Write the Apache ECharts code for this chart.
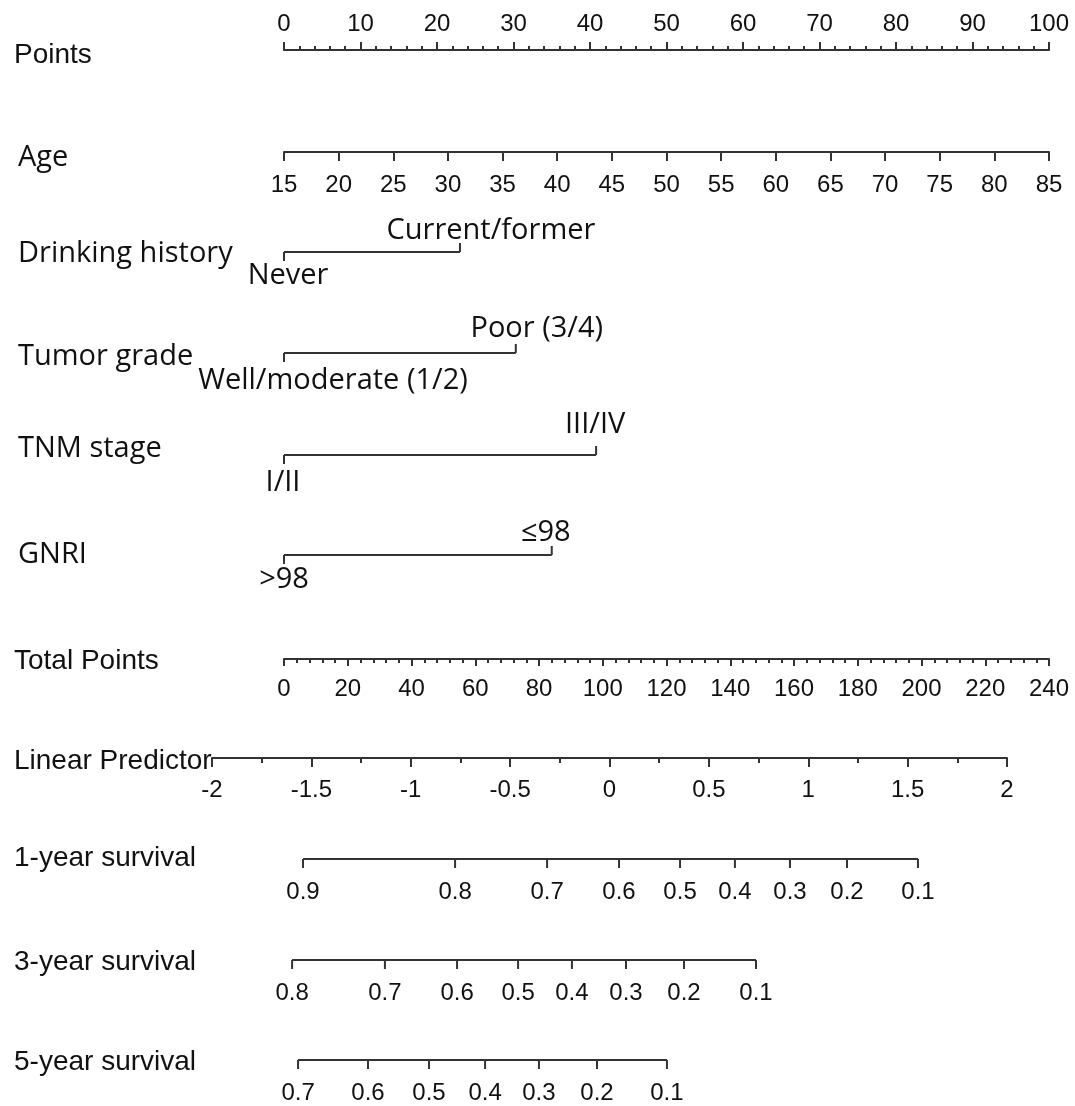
<!DOCTYPE html>
<html><head><meta charset="utf-8">
<script src="https://cdn.jsdelivr.net/npm/echarts@6/dist/echarts.min.js"></script>
<style>html,body{margin:0;padding:0;background:#fff}#c{width:1075px;height:1106px}</style>
</head><body><div id="c"></div>
<script>
// ---------------- DATA ----------------
const pointsRange = [0, 100];
const ageRange = [15, 85];
const totalPointsRange = [0, 240];
const lpRange = [-2, 2];

const drinkingLevels = ['Never', 'Current/former'];
const drinkingPoints = [0, 23.0];
const tumorLevels = ['Well/moderate (1/2)', 'Poor (3/4)'];
const tumorPoints = [0, 30.3];
const tnmLevels = ['I/II', 'III/IV'];
const tnmPoints = [0, 40.8];
const gnriLevels = ['>98', '≤98'];
const gnriPoints = [0, 35.0];

// survival probability ticks and their linear-predictor positions
const surv1Probs = ['0.9','0.8','0.7','0.6','0.5','0.4','0.3','0.2','0.1'];
const surv1LP = [-1.542, -0.777, -0.314, 0.048, 0.355, 0.631, 0.908, 1.195, 1.552];
const surv3Probs = ['0.8','0.7','0.6','0.5','0.4','0.3','0.2','0.1'];
const surv3LP = [-1.597, -1.130, -0.767, -0.460, -0.189, 0.083, 0.375, 0.737];
const surv5Probs = ['0.7','0.6','0.5','0.4','0.3','0.2','0.1'];
const surv5LP = [-1.567, -1.215, -0.908, -0.626, -0.355, -0.063, 0.289];

// ---------------- LAYOUT ----------------
const W = 1075, H = 1106;
const X0 = 284, X1 = 1049;      // points scale span
const LX0 = 212, LX1 = 1007;    // linear predictor span
const rowY = {points:50, age:152, drinking:252, tumor:353, tnm:455, gnri:555, total:659, lp:758, s1:859, s3:960, s5:1060};
const LINE = '#333';
const TXT = '#111';
const ARIAL = '"Liberation Sans", Arial, sans-serif';
const SEGOE = '"Open Sans", "Noto Sans", sans-serif';
const LBL = 24;
const TTL = '28px ' + ARIAL;
const SEG = '29px ' + SEGOE;

const titles = [
  {t:'Points', x:14, y:55, f:TTL},
  {t:'Age', x:18, y:158, f:SEG},
  {t:'Drinking history', x:18, y:254, f:SEG},
  {t:'Tumor grade', x:18, y:357, f:SEG},
  {t:'TNM stage', x:18, y:449, f:SEG},
  {t:'GNRI', x:18, y:555, f:SEG},
  {t:'Total Points', x:14, y:661, f:TTL},
  {t:'Linear Predictor', x:14, y:761, f:TTL},
  {t:'1-year survival', x:14, y:858, f:TTL},
  {t:'3-year survival', x:14, y:962, f:TTL},
  {t:'5-year survival', x:14, y:1062, f:TTL}
];

const catVars = [
  {levels:drinkingLevels, points:drinkingPoints, y:rowY.drinking, off:{lx:4, ly:24, hx:31, hy:-21}},
  {levels:tumorLevels, points:tumorPoints, y:rowY.tumor, off:{lx:49, ly:28, hx:21, hy:-24}},
  {levels:tnmLevels, points:tnmPoints, y:rowY.tnm, off:{lx:-1, ly:28, hx:-1, hy:-30}},
  {levels:gnriLevels, points:gnriPoints, y:rowY.gnri, off:{lx:0, ly:25, hx:-6, hy:-22}}
];
const survRows = [
  {probs:surv1Probs, lp:surv1LP, y:rowY.s1},
  {probs:surv3Probs, lp:surv3LP, y:rowY.s3},
  {probs:surv5Probs, lp:surv5LP, y:rowY.s5}
];

// ---------------- OPTION ----------------
function labelStyle(margin) {
  return {show:true, color:TXT, fontSize:LBL, fontFamily:ARIAL, margin,
          showMinLabel:true, showMaxLabel:true, hideOverlap:false};
}
function axisBase(gridIndex, range, interval, opts) {
  return Object.assign({
    type:'value', gridIndex, min:range[0], max:range[1], interval,
    axisLine:{show:true, onZero:false, lineStyle:{color:LINE, width:2}},
    axisTick:{show:true, length:9, lineStyle:{color:LINE, width:2}},
    splitLine:{show:false},
    axisLabel:labelStyle(21)
  }, opts);
}

const option = {
  backgroundColor:'#fff',
  animation:false,
  grid:[
    {left:X0, width:X1-X0, top:rowY.points, height:1},
    {left:X0, width:X1-X0, top:rowY.age-1, height:1},
    {left:X0, width:X1-X0, top:rowY.total-1, height:1},
    {left:LX0, width:LX1-LX0, top:rowY.lp-1, height:1},
    {left:X0, width:X1-X0, top:0, height:H},
    {left:LX0, width:LX1-LX0, top:0, height:H}
  ],
  xAxis:[
    axisBase(0, pointsRange, 10, {position:'top',
      axisTick:{show:true, length:8, lineStyle:{color:LINE, width:2}},
      minorTick:{show:true, splitNumber:5, length:4, lineStyle:{color:LINE, width:2}},
      axisLabel:labelStyle(14)}),
    axisBase(1, ageRange, 5, {position:'bottom'}),
    axisBase(2, totalPointsRange, 20, {position:'bottom',
      axisTick:{show:true, length:7, lineStyle:{color:LINE, width:2}},
      minorTick:{show:true, splitNumber:5, length:4, lineStyle:{color:LINE, width:2}},
      axisLabel:labelStyle(18)}),
    axisBase(3, lpRange, 0.5, {position:'bottom',
      axisTick:{show:true, length:9, lineStyle:{color:LINE, width:2}},
      minorTick:{show:true, splitNumber:2, length:5, lineStyle:{color:LINE, width:2}},
      axisLabel:labelStyle(20)}),
    {type:'value', gridIndex:4, min:pointsRange[0], max:pointsRange[1], show:false},
    {type:'value', gridIndex:5, min:lpRange[0], max:lpRange[1], show:false}
  ],
  yAxis:[
    {type:'value', gridIndex:0, min:0, max:1, show:false},
    {type:'value', gridIndex:1, min:0, max:1, show:false},
    {type:'value', gridIndex:2, min:0, max:1, show:false},
    {type:'value', gridIndex:3, min:0, max:1, show:false},
    {type:'value', gridIndex:4, min:0, max:H, inverse:true, show:false},
    {type:'value', gridIndex:5, min:0, max:H, inverse:true, show:false}
  ],
  graphic: titles.map(t => ({type:'text', x:t.x, y:t.y,
    style:{text:t.t, font:t.f, fill:TXT, verticalAlign:'middle', align:'left'}})),
  series:[
    {
      type:'custom', xAxisIndex:4, yAxisIndex:4, clip:false,
      data: catVars.map((v, i) => [v.points[0], v.y, i]),
      renderItem: function (params, api) {
        const v = catVars[api.value(2)];
        const p0 = api.coord([v.points[0], v.y]);
        const p1 = api.coord([v.points[1], v.y]);
        const ls = {stroke:LINE, lineWidth:2};
        return {type:'group', children:[
          {type:'line', shape:{x1:p0[0], y1:p0[1], x2:p1[0], y2:p1[1]}, style:ls},
          {type:'line', shape:{x1:p0[0], y1:p0[1], x2:p0[0], y2:p0[1] + 9}, style:ls},
          {type:'line', shape:{x1:p1[0], y1:p1[1], x2:p1[0], y2:p1[1] - 9}, style:ls},
          {type:'text', x:p0[0] + v.off.lx, y:p0[1] + v.off.ly,
            style:{text:v.levels[0], font:SEG, fill:TXT, align:'center', verticalAlign:'middle'}},
          {type:'text', x:p1[0] + v.off.hx, y:p1[1] + v.off.hy,
            style:{text:v.levels[1], font:SEG, fill:TXT, align:'center', verticalAlign:'middle'}}
        ]};
      }
    },
    {
      type:'custom', xAxisIndex:5, yAxisIndex:5, clip:false,
      data: survRows.map((r, i) => [r.lp[0], r.y, i]),
      renderItem: function (params, api) {
        const r = survRows[api.value(2)];
        const ls = {stroke:LINE, lineWidth:2};
        const a = api.coord([r.lp[0], r.y]);
        const b = api.coord([r.lp[r.lp.length - 1], r.y]);
        const children = [{type:'line', shape:{x1:a[0], y1:a[1], x2:b[0], y2:b[1]}, style:ls}];
        r.lp.forEach((lp, k) => {
          const p = api.coord([lp, r.y]);
          children.push({type:'line', shape:{x1:p[0], y1:p[1], x2:p[0], y2:p[1] + 9}, style:ls});
          children.push({type:'text', x:p[0], y:p[1] + 33,
            style:{text:r.probs[k], font:LBL + 'px ' + ARIAL, fill:TXT, align:'center', verticalAlign:'middle'}});
        });
        return {type:'group', children};
      }
    }
  ]
};

const chart = echarts.init(document.getElementById('c'), null, {renderer:'canvas'});
chart.setOption(option);
</script>
</body></html>
